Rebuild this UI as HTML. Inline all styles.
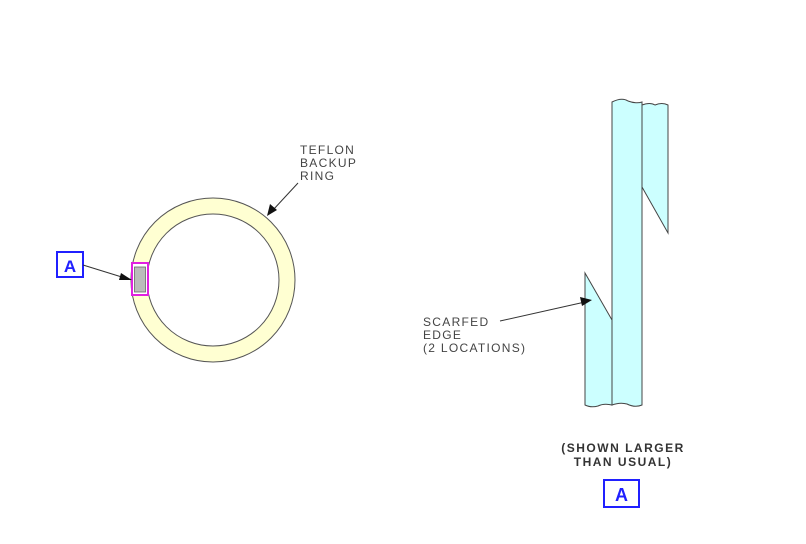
<!DOCTYPE html>
<html><head><style>body{margin:0;background:#fff}svg{display:block}</style></head><body>
<svg width="806" height="544" viewBox="0 0 806 544" xmlns="http://www.w3.org/2000/svg" font-family="Liberation Sans, sans-serif">
<circle cx="213" cy="280" r="74" fill="none" stroke="#ffffd2" stroke-width="16"/>
<circle cx="213" cy="280" r="82" fill="none" stroke="#555" stroke-width="1"/>
<circle cx="213" cy="280" r="66" fill="none" stroke="#555" stroke-width="1"/>
<rect x="132" y="263" width="16" height="32" fill="#fff" stroke="#e020e0" stroke-width="2"/>
<rect x="134.5" y="267" width="11" height="25" fill="#bbb" stroke="#666" stroke-width="0.8"/>
<rect x="57" y="252" width="26" height="25" fill="#fff" stroke="#2020ff" stroke-width="2"/>
<text x="70" y="272" font-size="17" font-weight="bold" fill="#2020ff" text-anchor="middle">A</text>
<line x1="83" y1="265" x2="125" y2="278" stroke="#333" stroke-width="1"/>
<polygon points="132,280 119,280 121,273" fill="#111"/>
<text font-size="12" fill="#444" letter-spacing="1.3"><tspan x="300" y="154">TEFLON</tspan><tspan x="300" y="167">BACKUP</tspan><tspan x="300" y="180">RING</tspan></text>
<line x1="298" y1="183" x2="273" y2="210" stroke="#333" stroke-width="1"/>
<polygon points="267,216 270,204 277,210" fill="#111"/>
<path d="M612,102 Q622,97 628,101 Q636,104 642,102 L642,405 Q635,408 627,404 Q620,402 612,405 Z" fill="#ccffff" stroke="#444" stroke-width="1"/>
<path d="M642,105 Q650,102 655,105 Q662,102 668,105 L668,233 L642,187 Z" fill="#ccffff" stroke="#444" stroke-width="1"/>
<path d="M585,273 L612,320 L612,405 Q604,403 598,406 Q591,408 585,405 Z" fill="#ccffff" stroke="#444" stroke-width="1"/>
<text font-size="12" fill="#444" letter-spacing="1.3"><tspan x="423" y="326">SCARFED</tspan><tspan x="423" y="339">EDGE</tspan><tspan x="423" y="352">(2 LOCATIONS)</tspan></text>
<line x1="500" y1="321" x2="585" y2="302" stroke="#333" stroke-width="1"/>
<polygon points="592,300 580,297 582,306" fill="#111"/>
<text font-size="12" font-weight="bold" fill="#333" text-anchor="middle" letter-spacing="1.5"><tspan x="623" y="452">(SHOWN LARGER</tspan><tspan x="623" y="466">THAN USUAL)</tspan></text>
<rect x="604" y="480" width="35" height="27" fill="#fff" stroke="#2020ff" stroke-width="2"/>
<text x="621.5" y="501" font-size="18" font-weight="bold" fill="#2020ff" text-anchor="middle">A</text>
</svg>
</body></html>
